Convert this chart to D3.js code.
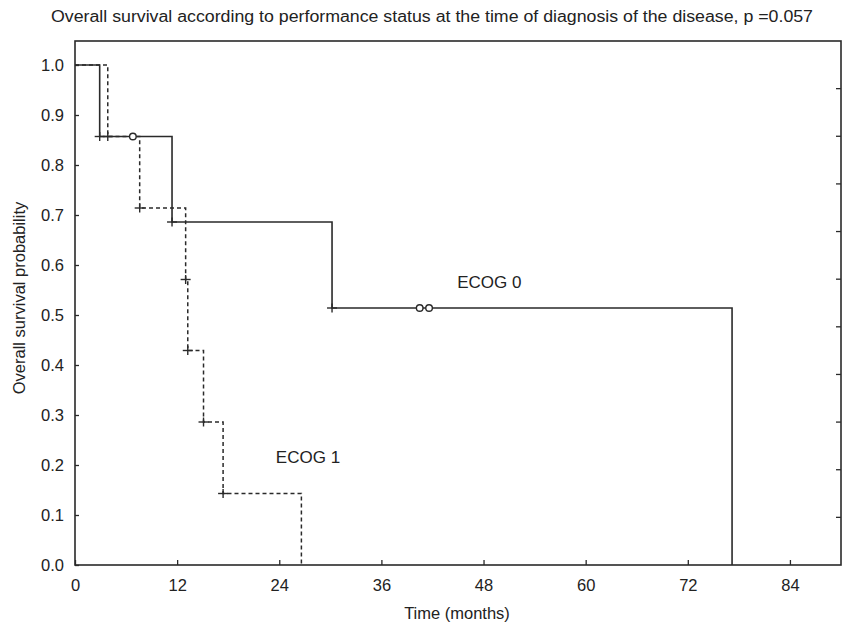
<!DOCTYPE html>
<html><head><meta charset="utf-8">
<script src="https://cdn.jsdelivr.net/npm/d3@7/dist/d3.min.js"></script>
<style>body{margin:0;background:#fff}svg{display:block}text{font-family:"Liberation Sans",Arial,sans-serif;fill:#222}</style>
</head><body>
<svg id="c" width="843" height="623"></svg>
<script>
// Data
const title = "Overall survival according to performance status at the time of diagnosis of the disease, p =0.057";
const xTicks = [0, 12, 24, 36, 48, 60, 72, 84];
const yTicks = [0.0, 0.1, 0.2, 0.3, 0.4, 0.5, 0.6, 0.7, 0.8, 0.9, 1.0];
const ecog0Times = [0, 2.9, 11.4, 30.2, 77.2];
const ecog0Surv  = [1.0, 0.857, 0.686, 0.514, 0.0];
const ecog0CensTimes = [6.8, 40.5, 41.6];
const ecog0CensSurv  = [0.857, 0.514, 0.514];
const ecog1Times = [0, 3.85, 7.6, 13.0, 13.25, 15.1, 17.4, 26.6];
const ecog1Surv  = [1.0, 0.857, 0.714, 0.571, 0.429, 0.286, 0.143, 0.0];
const labels = [{text: "ECOG 0", t: 44.9, s: 0.555}, {text: "ECOG 1", t: 23.6, s: 0.205}];

const svg = d3.select("#c");
const L = 75, R = 841, T = 41, B = 565;
const x = d3.scaleLinear().domain([0, 90]).range([L, R]);
const y = d3.scaleLinear().domain([0, 1.048]).range([B, T]);
const ink = "#2a2a2a";

// frame
svg.append("rect").attr("x", L).attr("y", T).attr("width", R - L).attr("height", B - T)
  .attr("fill", "none").attr("stroke", ink).attr("stroke-width", 1.6);

// bottom axis (ticks inward)
const xa = svg.append("g").attr("transform", `translate(0,${B})`)
  .call(d3.axisBottom(x).tickValues(xTicks).tickSizeInner(-5).tickSizeOuter(0).tickPadding(14).tickFormat(d3.format("d")));
xa.select(".domain").remove();
xa.selectAll("line").attr("stroke", ink).attr("stroke-width", 1.3);
xa.selectAll("text").attr("font-size", 16.5).attr("fill", "#222").attr("font-family", '"Liberation Sans",Arial,sans-serif');

// left axis (ticks inward)
const ya = svg.append("g").attr("transform", `translate(${L},0)`)
  .call(d3.axisLeft(y).tickValues(yTicks).tickSizeInner(-4).tickSizeOuter(0).tickPadding(11).tickFormat(d3.format(".1f")));
ya.select(".domain").remove();
ya.selectAll("line").attr("stroke", ink).attr("stroke-width", 1.3);
ya.selectAll("text").attr("font-size", 16.5).attr("fill", "#222").attr("font-family", '"Liberation Sans",Arial,sans-serif');

// right frame ticks (inward)
const rightTicks = d3.range(1, 11);
svg.append("g").selectAll("line").data(rightTicks).join("line")
  .attr("x1", R).attr("x2", R - 5)
  .attr("y1", d => B - d * (B - T) / 11).attr("y2", d => B - d * (B - T) / 11)
  .attr("stroke", ink).attr("stroke-width", 1.3);

// curves
const line = d3.line().x(d => x(d[0])).y(d => y(d[1])).curve(d3.curveStepAfter);
const s0 = ecog0Times.map((t, i) => [t, ecog0Surv[i]]);
const s1 = ecog1Times.map((t, i) => [t, ecog1Surv[i]]);

svg.append("path").attr("d", line(s1)).attr("fill", "none").attr("stroke", ink)
  .attr("stroke-width", 1.5).attr("stroke-dasharray", "4,3");
svg.append("path").attr("d", line(s0)).attr("fill", "none").attr("stroke", ink)
  .attr("stroke-width", 1.6);

// event markers (+)
function plus(g, pts) {
  g.selectAll("g").data(pts).join("g").each(function (d) {
    const gx = x(d[0]), gy = y(d[1]);
    const s = d3.select(this);
    s.append("line").attr("x1", gx - 5).attr("x2", gx + 5).attr("y1", gy).attr("y2", gy);
    s.append("line").attr("x1", gx).attr("x2", gx).attr("y1", gy - 4.5).attr("y2", gy + 4.5);
  }).selectAll("line").attr("stroke", ink).attr("stroke-width", 1.4);
}
plus(svg.append("g"), s0.slice(1).filter(d => d[1] > 0));
plus(svg.append("g"), s1.slice(1).filter(d => d[1] > 0));

// censor markers (o)
svg.append("g").selectAll("circle").data(ecog0CensTimes.map((t, i) => [t, ecog0CensSurv[i]])).join("circle")
  .attr("cx", d => x(d[0])).attr("cy", d => y(d[1])).attr("r", 3.3)
  .attr("fill", "#fff").attr("stroke", ink).attr("stroke-width", 1.4);

// curve labels
svg.append("g").selectAll("text").data(labels).join("text")
  .attr("x", d => x(d.t)).attr("y", d => y(d.s))
  .attr("font-size", 17).text(d => d.text);

// titles
svg.append("text").attr("x", 432).attr("y", 22).attr("text-anchor", "middle")
  .attr("font-size", 16).attr("textLength", 762).attr("lengthAdjust", "spacingAndGlyphs").text(title);
svg.append("text").attr("x", 457).attr("y", 619).attr("text-anchor", "middle")
  .attr("font-size", 16.5).text("Time (months)");
svg.append("text").attr("transform", "translate(25,298) rotate(-90)").attr("text-anchor", "middle")
  .attr("font-size", 16.5).text("Overall survival probability");
</script>
</body></html>
